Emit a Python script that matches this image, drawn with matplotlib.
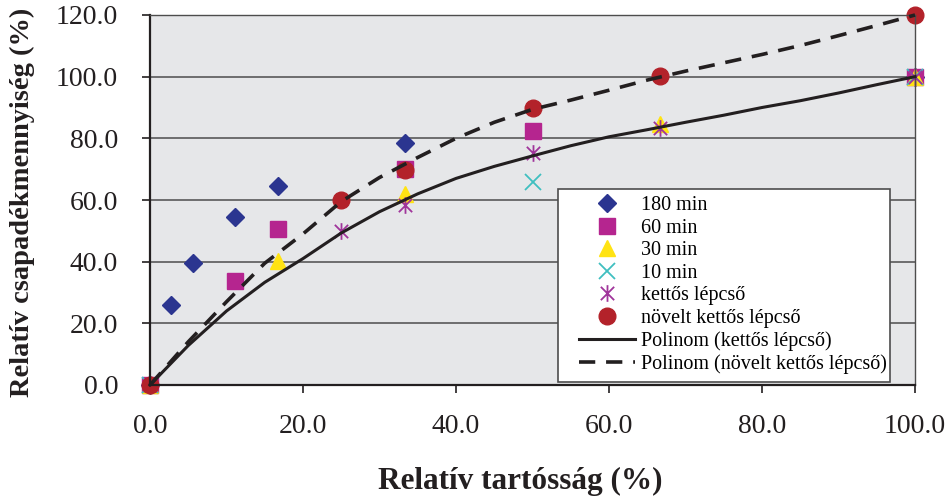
import matplotlib
matplotlib.use("Agg")
import matplotlib.pyplot as plt
from matplotlib.path import Path
from matplotlib.patches import Rectangle

plt.rcParams['font.family'] = ['Liberation Serif', 'DejaVu Serif']

# ---- data ----
x_180 = [0, 2.78, 5.56, 11.1, 16.7, 33.3, 100]
y_180 = [0, 26.0, 39.7, 54.5, 64.5, 78.4, 100]
x_60 = [0, 11.1, 16.7, 33.3, 50, 100]
y_60 = [0, 33.8, 50.5, 70.0, 82.4, 100]
x_30 = [0, 16.7, 33.3, 66.7, 100]
y_30 = [0, 40.2, 61.8, 84.8, 100]
x_10 = [0, 50, 100]
y_10 = [0, 65.8, 100]
x_kett = [0, 25, 33.3, 50, 66.7, 100]
y_kett = [0, 49.8, 58.4, 75.2, 83.4, 100]
x_nov = [0, 25, 33.3, 50, 66.7, 100]
y_nov = [0, 60.0, 69.8, 90.0, 100.2, 120]

trend_x = [0, 5, 10, 15, 20, 25, 30, 35, 40, 45, 50, 55, 60, 65, 70, 75, 80, 85, 90, 95, 100]
trend_kett = [0, 12.8, 24.0, 33.3, 41.0, 49.3, 56.2, 62.0, 67.0, 70.9, 74.3, 77.6, 80.5, 82.8,
              85.2, 87.5, 90.0, 92.2, 94.7, 97.4, 100]
trend_nov = [0, 14.0, 27.0, 39.5, 49.0, 59.5, 67.3, 73.8, 80.0, 85.2, 89.4, 92.4, 95.6, 98.9,
             101.8, 104.5, 107.2, 110.1, 113.3, 116.6, 120]

labels = ['180 min', '60 min', '30 min', '10 min', 'kettős lépcső', 'növelt kettős lépcső',
          'Polinom (kettős lépcső)', 'Polinom (növelt kettős lépcső)']
xticks = [0, 20, 40, 60, 80, 100]
yticks = [0, 20, 40, 60, 80, 100, 120]

# asterisk marker: X plus vertical bar
ast = Path([(-1, -1), (1, 1), (-1, 1), (1, -1), (0, -1.25), (0, 1.25)],
           [Path.MOVETO, Path.LINETO, Path.MOVETO, Path.LINETO, Path.MOVETO, Path.LINETO])

fig = plt.figure(figsize=(9.5, 4.99), dpi=100)
ax = fig.add_axes([150/950, 1-385/499, (915-150)/950, (385-15)/499])
ax.set_facecolor('#e6e7e9')

kw = dict(ls='none', zorder=2, clip_on=False)
h1, = ax.plot(x_180, y_180, marker='D', ms=9, color='#2b3590', mec='#2b3590', **kw)
h2, = ax.plot(x_60, y_60, marker='s', ms=11, color='#b5258f', mec='#b5258f', **kw)
h3, = ax.plot(x_30, y_30, marker='^', ms=12, color='#ffe313', mec='#ffe313', **kw)
h4, = ax.plot(x_10, y_10, marker='x', ms=11, mew=1.3, color='#3fbfc0', **kw)
h5, = ax.plot(x_kett, y_kett, marker=ast, ms=12, mew=1.3, color='#a0359b', **kw)
h6, = ax.plot(x_nov, y_nov, marker='o', ms=12, color='#b3222a', mec='#b3222a', **kw)
h7, = ax.plot(trend_x, trend_kett, color='#231f20', lw=2.2, zorder=3, clip_on=False)
h8, = ax.plot(trend_x, trend_nov, color='#231f20', lw=2.6, ls=(0, (4.5, 3)), zorder=3, clip_on=False)

ax.set_xlim(0, 100)
ax.set_ylim(0, 120)
ax.set_xticks(xticks)
ax.set_yticks(yticks)
ax.set_xticklabels([f'{v:.1f}' for v in xticks])
ax.set_yticklabels([f'{v:.1f}' for v in yticks])
ax.tick_params(axis='both', direction='out', length=6, width=1.2, colors='#231f20', labelsize=20)
ax.tick_params(axis='x', pad=15)
ax.tick_params(axis='y', pad=17)
ax.yaxis.grid(True, color='#4d4d4d', lw=1.1)
ax.set_axisbelow(True)
for s in ['left', 'bottom']:
    ax.spines[s].set_linewidth(1.6)
    ax.spines[s].set_color('#231f20')
for s in ['top', 'right']:
    ax.spines[s].set_linewidth(1.0)
    ax.spines[s].set_color('#4d4d4d')

# legend frame
fx0, fy0, fx1, fy1 = 558, 189, 890, 382
rect = Rectangle((fx0/950, 1-fy1/499), (fx1-fx0)/950, (fy1-fy0)/499, transform=fig.transFigure,
                 facecolor='white', edgecolor='#4d4d4d', lw=1.2, zorder=4)
fig.patches.append(rect)

leg = fig.legend([h1, h2, h3, h4, h5, h6, h7, h8], labels, frameon=False, fontsize=14.5,
                 loc='upper left', bbox_to_anchor=(575/950, 1-192/499), handlelength=2.8,
                 handletextpad=0.3, labelspacing=0.17, borderpad=0.2, borderaxespad=0)
leg.set_zorder(5)

fig.text(22/950, 0.595, 'Relatív csapadékmennyiség (%)', rotation=90, ha='center', va='center',
         fontsize=20.5, fontweight='bold', color='#231f20')
fig.text(520/950, 0.035, 'Relatív tartósság (%)', ha='center', va='center',
         fontsize=22.5, fontweight='bold', color='#231f20')

fig.savefig('out.png', dpi=100)
